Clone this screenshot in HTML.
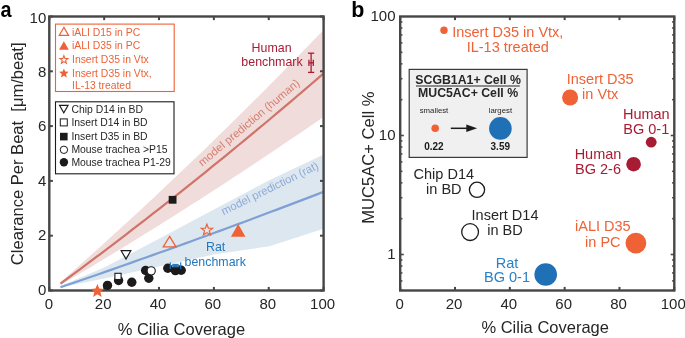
<!DOCTYPE html>
<html><head><meta charset="utf-8"><style>
html,body{margin:0;padding:0;background:#fff;width:685px;height:338px;overflow:hidden;}
svg{display:block;will-change:transform;font-family:"Liberation Sans",sans-serif;}
</style></head><body>
<svg width="685" height="338" viewBox="0 0 685 338">
<rect width="685" height="338" fill="#fff"/>
<clipPath id="ca"><rect x="49.3" y="16.5" width="274.3" height="274"/></clipPath>
<g clip-path="url(#ca)">
<polygon fill="#f1dcdc" points="60.5,282.19 67.08,276.39 73.66,270.57 80.23,264.72 86.81,258.84 93.39,252.94 99.97,247.01 106.54,241.06 113.12,235.08 119.7,229.07 126.28,223.04 132.85,216.98 139.43,210.9 146.01,204.79 152.59,198.65 159.16,192.49 165.74,186.3 172.32,180.09 178.9,173.85 185.47,167.59 192.05,161.3 198.63,154.98 205.21,148.63 211.78,142.27 218.36,135.87 224.94,129.45 231.52,123 238.09,116.53 244.67,110.03 251.25,103.51 257.83,96.96 264.4,90.38 270.98,83.78 277.56,77.15 284.14,70.49 290.71,63.81 297.29,57.11 303.87,50.37 310.45,43.62 317.02,36.83 323.6,30.02 323.6,116.85 317.02,121.39 310.45,125.91 303.87,130.42 297.29,134.9 290.71,139.37 284.14,143.83 277.56,148.26 270.98,152.68 264.4,157.09 257.83,161.47 251.25,165.84 244.67,170.19 238.09,174.52 231.52,178.83 224.94,183.13 218.36,187.41 211.78,191.68 205.21,195.92 198.63,200.15 192.05,204.36 185.47,208.56 178.9,212.73 172.32,216.89 165.74,221.04 159.16,225.16 152.59,229.27 146.01,233.36 139.43,237.43 132.85,241.49 126.28,245.53 119.7,249.55 113.12,253.55 106.54,257.54 99.97,261.51 93.39,265.46 86.81,269.4 80.23,273.31 73.66,277.21 67.08,281.1 60.5,284.96"/>
<polygon fill="#dde7f0" points="60.5,286 104.2,267.6 159,238.8 213.9,209.5 268.7,180.6 323.6,154.4 323.6,228.8 269.5,246.2 213.9,254.6 159,266.6 104.2,278.4 60.5,287.6"/>
<polyline fill="none" stroke="#cf7468" stroke-width="2.2" points="60.5,283.58 67.08,278.74 73.66,273.89 80.23,269.02 86.81,264.12 93.39,259.2 99.97,254.26 106.54,249.3 113.12,244.32 119.7,239.31 126.28,234.28 132.85,229.24 139.43,224.17 146.01,219.07 152.59,213.96 159.16,208.83 165.74,203.67 172.32,198.49 178.9,193.29 185.47,188.07 192.05,182.83 198.63,177.56 205.21,172.28 211.78,166.97 218.36,161.64 224.94,156.29 231.52,150.92 238.09,145.52 244.67,140.11 251.25,134.67 257.83,129.21 264.4,123.73 270.98,118.23 277.56,112.71 284.14,107.16 290.71,101.59 297.29,96 303.87,90.39 310.45,84.76 317.02,79.11 323.6,73.43"/>
<polyline fill="none" stroke="#7ea0d4" stroke-width="2.2" points="60.5,287.26 67.08,285.01 73.66,282.76 80.23,280.5 86.81,278.23 93.39,275.96 99.97,273.68 106.54,271.39 113.12,269.09 119.7,266.79 126.28,264.48 132.85,262.16 139.43,259.83 146.01,257.5 152.59,255.16 159.16,252.82 165.74,250.46 172.32,248.1 178.9,245.73 185.47,243.36 192.05,240.98 198.63,238.59 205.21,236.19 211.78,233.79 218.36,231.37 224.94,228.96 231.52,226.53 238.09,224.1 244.67,221.66 251.25,219.21 257.83,216.76 264.4,214.3 270.98,211.83 277.56,209.35 284.14,206.87 290.71,204.38 297.29,201.88 303.87,199.38 310.45,196.87 317.02,194.35 323.6,191.82"/>
</g>
<text x="202.3" y="166.7" transform="rotate(-40 202.3 166.7)" font-size="11.3" fill="#d4806f">model prediction (human)</text>
<text x="223.6" y="215.2" transform="rotate(-26.1 223.6 215.2)" font-size="11.3" fill="#8eaad8">model prediction (rat)</text>
<rect x="49.3" y="16.5" width="274.3" height="274" fill="none" stroke="#464646" stroke-width="2.4"/>
<line x1="49.3" y1="290.5" x2="49.3" y2="286.9" stroke="#464646" stroke-width="2"/>
<line x1="49.3" y1="16.5" x2="49.3" y2="20.1" stroke="#464646" stroke-width="2"/>
<text x="48.8" y="308.6" font-size="15" fill="#262626" text-anchor="middle">0</text>
<line x1="104.16" y1="290.5" x2="104.16" y2="286.9" stroke="#464646" stroke-width="2"/>
<line x1="104.16" y1="16.5" x2="104.16" y2="20.1" stroke="#464646" stroke-width="2"/>
<text x="103.16" y="308.6" font-size="15" fill="#262626" text-anchor="middle">20</text>
<line x1="159.02" y1="290.5" x2="159.02" y2="286.9" stroke="#464646" stroke-width="2"/>
<line x1="159.02" y1="16.5" x2="159.02" y2="20.1" stroke="#464646" stroke-width="2"/>
<text x="158.02" y="308.6" font-size="15" fill="#262626" text-anchor="middle">40</text>
<line x1="213.88" y1="290.5" x2="213.88" y2="286.9" stroke="#464646" stroke-width="2"/>
<line x1="213.88" y1="16.5" x2="213.88" y2="20.1" stroke="#464646" stroke-width="2"/>
<text x="212.88" y="308.6" font-size="15" fill="#262626" text-anchor="middle">60</text>
<line x1="268.74" y1="290.5" x2="268.74" y2="286.9" stroke="#464646" stroke-width="2"/>
<line x1="268.74" y1="16.5" x2="268.74" y2="20.1" stroke="#464646" stroke-width="2"/>
<text x="267.74" y="308.6" font-size="15" fill="#262626" text-anchor="middle">80</text>
<line x1="323.6" y1="290.5" x2="323.6" y2="286.9" stroke="#464646" stroke-width="2"/>
<line x1="323.6" y1="16.5" x2="323.6" y2="20.1" stroke="#464646" stroke-width="2"/>
<text x="322.6" y="308.6" font-size="15" fill="#262626" text-anchor="middle">100</text>
<line x1="49.3" y1="290.5" x2="52.9" y2="290.5" stroke="#464646" stroke-width="2"/>
<line x1="323.6" y1="290.5" x2="320" y2="290.5" stroke="#464646" stroke-width="2"/>
<text x="46.3" y="294.55" font-size="15" fill="#262626" text-anchor="end">0</text>
<line x1="49.3" y1="235.7" x2="52.9" y2="235.7" stroke="#464646" stroke-width="2"/>
<line x1="323.6" y1="235.7" x2="320" y2="235.7" stroke="#464646" stroke-width="2"/>
<text x="46.3" y="240.19" font-size="15" fill="#262626" text-anchor="end">2</text>
<line x1="49.3" y1="180.9" x2="52.9" y2="180.9" stroke="#464646" stroke-width="2"/>
<line x1="323.6" y1="180.9" x2="320" y2="180.9" stroke="#464646" stroke-width="2"/>
<text x="46.3" y="185.83" font-size="15" fill="#262626" text-anchor="end">4</text>
<line x1="49.3" y1="126.1" x2="52.9" y2="126.1" stroke="#464646" stroke-width="2"/>
<line x1="323.6" y1="126.1" x2="320" y2="126.1" stroke="#464646" stroke-width="2"/>
<text x="46.3" y="131.47" font-size="15" fill="#262626" text-anchor="end">6</text>
<line x1="49.3" y1="71.3" x2="52.9" y2="71.3" stroke="#464646" stroke-width="2"/>
<line x1="323.6" y1="71.3" x2="320" y2="71.3" stroke="#464646" stroke-width="2"/>
<text x="46.3" y="77.11" font-size="15" fill="#262626" text-anchor="end">8</text>
<line x1="49.3" y1="16.5" x2="52.9" y2="16.5" stroke="#464646" stroke-width="2"/>
<line x1="323.6" y1="16.5" x2="320" y2="16.5" stroke="#464646" stroke-width="2"/>
<text x="46.3" y="22.75" font-size="15" fill="#262626" text-anchor="end">10</text>
<text x="181.4" y="334.6" font-size="16.5" fill="#262626" text-anchor="middle">% Cilia Coverage</text>
<text transform="translate(23 153.8) rotate(-90)" font-size="16.55" fill="#262626" text-anchor="middle">Clearance Per Beat&#160;&#160;[&#956;m/beat]</text>
<text transform="translate(0.4 17.1) scale(0.87 1)" font-size="22.8" font-weight="bold" fill="#000">a</text>
<circle cx="107.5" cy="285.4" r="4.7" fill="#1c1a1b" stroke="none" stroke-width="0"/>
<circle cx="118.6" cy="280.5" r="4.7" fill="#1c1a1b" stroke="none" stroke-width="0"/>
<circle cx="131.8" cy="282.3" r="4.7" fill="#1c1a1b" stroke="none" stroke-width="0"/>
<circle cx="145.6" cy="270.5" r="4.7" fill="#1c1a1b" stroke="none" stroke-width="0"/>
<circle cx="148.8" cy="278.3" r="4.7" fill="#1c1a1b" stroke="none" stroke-width="0"/>
<circle cx="167.8" cy="268.3" r="4.7" fill="#1c1a1b" stroke="none" stroke-width="0"/>
<circle cx="175.4" cy="270.6" r="4.7" fill="#1c1a1b" stroke="none" stroke-width="0"/>
<circle cx="181.2" cy="270.2" r="4.7" fill="#1c1a1b" stroke="none" stroke-width="0"/>
<circle cx="151.2" cy="270.85" r="4.1" fill="#fff" stroke="#1c1a1b" stroke-width="1.1"/>
<rect x="114.9" y="273.3" width="6.2" height="6.2" fill="#fff" stroke="#1c1a1b" stroke-width="1.1"/>
<rect x="168.7" y="195.9" width="7.8" height="7.8" fill="#1c1a1b" stroke="none" stroke-width="0"/>
<polygon points="121.2,250.7 130.8,250.7 126,259.1" fill="none" stroke="#1c1a1b" stroke-width="1.2" stroke-linejoin="miter"/>
<polygon points="169.6,236.4 176,246.8 163.2,246.8" fill="none" stroke="#ee6236" stroke-width="1.3" stroke-linejoin="miter"/>
<polygon points="238.2,223.95 245.45,236.65 230.95,236.65" fill="#ee6236" stroke="none" stroke-width="0" stroke-linejoin="miter"/>
<polygon points="206.9,224.1 208.38,228.06 212.61,228.25 209.3,230.88 210.43,234.95 206.9,232.62 203.37,234.95 204.5,230.88 201.19,228.25 205.42,228.06" fill="none" stroke="#ee6236" stroke-width="1.2"/>
<polygon points="97.4,283.9 99.3,288.48 104.25,288.88 100.48,292.1 101.63,296.92 97.4,294.34 93.17,296.92 94.32,292.1 90.55,288.88 95.5,288.48" fill="#ee6236" stroke="none" stroke-width="0"/>
<g stroke="#2277c0" stroke-width="1.1" fill="none">
<line x1="170.3" y1="265.6" x2="180.7" y2="265.6"/>
<line x1="170.3" y1="262.2" x2="170.3" y2="269"/>
<line x1="180.7" y1="262.2" x2="180.7" y2="269"/>
<line x1="175.5" y1="264.4" x2="175.5" y2="266.8"/>
<line x1="172.3" y1="264.4" x2="178.7" y2="264.4"/>
<line x1="172.3" y1="266.8" x2="178.7" y2="266.8"/>
</g>
<g stroke="#a81c33" stroke-width="1.3" fill="none">
<line x1="308.9" y1="62.8" x2="313.3" y2="62.8"/>
<line x1="308.9" y1="59.7" x2="308.9" y2="65.9"/>
<line x1="313.3" y1="59.7" x2="313.3" y2="65.9"/>
<line x1="311.1" y1="53.2" x2="311.1" y2="72.4"/>
<line x1="308" y1="53.2" x2="314.2" y2="53.2"/>
<line x1="308" y1="72.4" x2="314.2" y2="72.4"/>
</g>
<text font-size="12.4" fill="#2277c0" text-anchor="middle"><tspan x="215.6" y="251">Rat</tspan><tspan x="215.2" y="265.8">benchmark</tspan></text>
<text font-size="12.4" fill="#a81c33" text-anchor="middle"><tspan x="271.6" y="52">Human</tspan><tspan x="272" y="66.2">benchmark</tspan></text>
<rect x="55.5" y="24.1" width="118.7" height="67.4" fill="#fff" stroke="#ee6236" stroke-width="1.1"/>
<polygon points="63.9,27.4 68.6,35.4 59.2,35.4" fill="none" stroke="#ee6236" stroke-width="1.2" stroke-linejoin="miter"/>
<polygon points="63.9,41.3 68.8,49.7 59,49.7" fill="#ee6236" stroke="none" stroke-width="0" stroke-linejoin="miter"/>
<polygon points="63.9,55.6 64.94,58.37 67.89,58.5 65.58,60.35 66.37,63.2 63.9,61.56 61.43,63.2 62.22,60.35 59.91,58.5 62.86,58.37" fill="none" stroke="#ee6236" stroke-width="1.1"/>
<polygon points="63.9,68.4 65.22,71.58 68.66,71.85 66.04,74.1 66.84,77.45 63.9,75.65 60.96,77.45 61.76,74.1 59.14,71.85 62.58,71.58" fill="#ee6236" stroke="none" stroke-width="0"/>
<text x="72" y="35.8" font-size="10.4" fill="#ee6236">iALI D15 in PC</text>
<text x="72" y="49.2" font-size="10.4" fill="#ee6236">iALI D35 in PC</text>
<text x="72" y="63" font-size="10.4" fill="#ee6236">Insert D35 in Vtx</text>
<text x="72" y="76.6" font-size="10.4" fill="#ee6236">Insert D35 in Vtx,</text>
<text x="72" y="89.3" font-size="10.4" fill="#ee6236">IL-13 treated</text>
<rect x="55.5" y="101.8" width="118.5" height="72" fill="#fff" stroke="#1c1a1b" stroke-width="1.1"/>
<polygon points="59.5,105.4 68.1,105.4 63.8,112.8" fill="none" stroke="#1c1a1b" stroke-width="1.1" stroke-linejoin="miter"/>
<rect x="60.3" y="118.9" width="7" height="7" fill="#fff" stroke="#1c1a1b" stroke-width="1"/>
<rect x="60" y="132.8" width="7.6" height="7.6" fill="#1c1a1b" stroke="none" stroke-width="0"/>
<circle cx="63.9" cy="149.8" r="3.7" fill="#fff" stroke="#1c1a1b" stroke-width="1"/>
<circle cx="63.9" cy="162.3" r="4.2" fill="#1c1a1b" stroke="none" stroke-width="0"/>
<text x="71.4" y="112.8" font-size="10.4" fill="#262626">Chip D14 in BD</text>
<text x="71.4" y="126.2" font-size="10.4" fill="#262626">Insert D14 in BD</text>
<text x="71.4" y="139.6" font-size="10.4" fill="#262626">Insert D35 in BD</text>
<text x="71.4" y="153" font-size="10.4" fill="#262626">Mouse trachea &gt;P15</text>
<text x="71.4" y="166.4" font-size="10.4" fill="#262626">Mouse trachea P1-29</text>
<rect x="409.2" y="69.4" width="117.9" height="88" fill="#f0f0f0" stroke="#3a3a3a" stroke-width="1.2"/>
<rect x="400.2" y="16.5" width="274.1" height="274" fill="none" stroke="#464646" stroke-width="2.4"/>
<line x1="400.2" y1="290.5" x2="400.2" y2="286.9" stroke="#464646" stroke-width="2"/>
<line x1="400.2" y1="16.5" x2="400.2" y2="20.1" stroke="#464646" stroke-width="2"/>
<text x="399.7" y="308.6" font-size="15" fill="#262626" text-anchor="middle">0</text>
<line x1="455.02" y1="290.5" x2="455.02" y2="286.9" stroke="#464646" stroke-width="2"/>
<line x1="455.02" y1="16.5" x2="455.02" y2="20.1" stroke="#464646" stroke-width="2"/>
<text x="454.02" y="308.6" font-size="15" fill="#262626" text-anchor="middle">20</text>
<line x1="509.84" y1="290.5" x2="509.84" y2="286.9" stroke="#464646" stroke-width="2"/>
<line x1="509.84" y1="16.5" x2="509.84" y2="20.1" stroke="#464646" stroke-width="2"/>
<text x="508.84" y="308.6" font-size="15" fill="#262626" text-anchor="middle">40</text>
<line x1="564.66" y1="290.5" x2="564.66" y2="286.9" stroke="#464646" stroke-width="2"/>
<line x1="564.66" y1="16.5" x2="564.66" y2="20.1" stroke="#464646" stroke-width="2"/>
<text x="563.66" y="308.6" font-size="15" fill="#262626" text-anchor="middle">60</text>
<line x1="619.48" y1="290.5" x2="619.48" y2="286.9" stroke="#464646" stroke-width="2"/>
<line x1="619.48" y1="16.5" x2="619.48" y2="20.1" stroke="#464646" stroke-width="2"/>
<text x="618.48" y="308.6" font-size="15" fill="#262626" text-anchor="middle">80</text>
<line x1="674.3" y1="290.5" x2="674.3" y2="286.9" stroke="#464646" stroke-width="2"/>
<line x1="674.3" y1="16.5" x2="674.3" y2="20.1" stroke="#464646" stroke-width="2"/>
<text x="673.3" y="308.6" font-size="15" fill="#262626" text-anchor="middle">100</text>
<line x1="400.2" y1="290.32" x2="402.4" y2="290.32" stroke="#464646" stroke-width="1.6"/>
<line x1="674.3" y1="290.32" x2="672.1" y2="290.32" stroke="#464646" stroke-width="1.6"/>
<line x1="400.2" y1="280.9" x2="402.4" y2="280.9" stroke="#464646" stroke-width="1.6"/>
<line x1="674.3" y1="280.9" x2="672.1" y2="280.9" stroke="#464646" stroke-width="1.6"/>
<line x1="400.2" y1="272.93" x2="402.4" y2="272.93" stroke="#464646" stroke-width="1.6"/>
<line x1="674.3" y1="272.93" x2="672.1" y2="272.93" stroke="#464646" stroke-width="1.6"/>
<line x1="400.2" y1="266.03" x2="402.4" y2="266.03" stroke="#464646" stroke-width="1.6"/>
<line x1="674.3" y1="266.03" x2="672.1" y2="266.03" stroke="#464646" stroke-width="1.6"/>
<line x1="400.2" y1="259.95" x2="402.4" y2="259.95" stroke="#464646" stroke-width="1.6"/>
<line x1="674.3" y1="259.95" x2="672.1" y2="259.95" stroke="#464646" stroke-width="1.6"/>
<line x1="400.2" y1="254.5" x2="403.8" y2="254.5" stroke="#464646" stroke-width="1.6"/>
<line x1="674.3" y1="254.5" x2="670.7" y2="254.5" stroke="#464646" stroke-width="1.6"/>
<line x1="400.2" y1="218.68" x2="402.4" y2="218.68" stroke="#464646" stroke-width="1.6"/>
<line x1="674.3" y1="218.68" x2="672.1" y2="218.68" stroke="#464646" stroke-width="1.6"/>
<line x1="400.2" y1="197.72" x2="402.4" y2="197.72" stroke="#464646" stroke-width="1.6"/>
<line x1="674.3" y1="197.72" x2="672.1" y2="197.72" stroke="#464646" stroke-width="1.6"/>
<line x1="400.2" y1="182.85" x2="402.4" y2="182.85" stroke="#464646" stroke-width="1.6"/>
<line x1="674.3" y1="182.85" x2="672.1" y2="182.85" stroke="#464646" stroke-width="1.6"/>
<line x1="400.2" y1="171.32" x2="402.4" y2="171.32" stroke="#464646" stroke-width="1.6"/>
<line x1="674.3" y1="171.32" x2="672.1" y2="171.32" stroke="#464646" stroke-width="1.6"/>
<line x1="400.2" y1="161.9" x2="402.4" y2="161.9" stroke="#464646" stroke-width="1.6"/>
<line x1="674.3" y1="161.9" x2="672.1" y2="161.9" stroke="#464646" stroke-width="1.6"/>
<line x1="400.2" y1="153.93" x2="402.4" y2="153.93" stroke="#464646" stroke-width="1.6"/>
<line x1="674.3" y1="153.93" x2="672.1" y2="153.93" stroke="#464646" stroke-width="1.6"/>
<line x1="400.2" y1="147.03" x2="402.4" y2="147.03" stroke="#464646" stroke-width="1.6"/>
<line x1="674.3" y1="147.03" x2="672.1" y2="147.03" stroke="#464646" stroke-width="1.6"/>
<line x1="400.2" y1="140.95" x2="402.4" y2="140.95" stroke="#464646" stroke-width="1.6"/>
<line x1="674.3" y1="140.95" x2="672.1" y2="140.95" stroke="#464646" stroke-width="1.6"/>
<line x1="400.2" y1="135.5" x2="403.8" y2="135.5" stroke="#464646" stroke-width="1.6"/>
<line x1="674.3" y1="135.5" x2="670.7" y2="135.5" stroke="#464646" stroke-width="1.6"/>
<line x1="400.2" y1="99.68" x2="402.4" y2="99.68" stroke="#464646" stroke-width="1.6"/>
<line x1="674.3" y1="99.68" x2="672.1" y2="99.68" stroke="#464646" stroke-width="1.6"/>
<line x1="400.2" y1="78.72" x2="402.4" y2="78.72" stroke="#464646" stroke-width="1.6"/>
<line x1="674.3" y1="78.72" x2="672.1" y2="78.72" stroke="#464646" stroke-width="1.6"/>
<line x1="400.2" y1="63.85" x2="402.4" y2="63.85" stroke="#464646" stroke-width="1.6"/>
<line x1="674.3" y1="63.85" x2="672.1" y2="63.85" stroke="#464646" stroke-width="1.6"/>
<line x1="400.2" y1="52.32" x2="402.4" y2="52.32" stroke="#464646" stroke-width="1.6"/>
<line x1="674.3" y1="52.32" x2="672.1" y2="52.32" stroke="#464646" stroke-width="1.6"/>
<line x1="400.2" y1="42.9" x2="402.4" y2="42.9" stroke="#464646" stroke-width="1.6"/>
<line x1="674.3" y1="42.9" x2="672.1" y2="42.9" stroke="#464646" stroke-width="1.6"/>
<line x1="400.2" y1="34.93" x2="402.4" y2="34.93" stroke="#464646" stroke-width="1.6"/>
<line x1="674.3" y1="34.93" x2="672.1" y2="34.93" stroke="#464646" stroke-width="1.6"/>
<line x1="400.2" y1="28.03" x2="402.4" y2="28.03" stroke="#464646" stroke-width="1.6"/>
<line x1="674.3" y1="28.03" x2="672.1" y2="28.03" stroke="#464646" stroke-width="1.6"/>
<line x1="400.2" y1="21.95" x2="402.4" y2="21.95" stroke="#464646" stroke-width="1.6"/>
<line x1="674.3" y1="21.95" x2="672.1" y2="21.95" stroke="#464646" stroke-width="1.6"/>
<text x="395.5" y="258.75" font-size="15" fill="#262626" text-anchor="end">1</text>
<text x="395.5" y="139.75" font-size="15" fill="#262626" text-anchor="end">10</text>
<text x="395.5" y="20.75" font-size="15" fill="#262626" text-anchor="end">100</text>
<text x="545.2" y="332.6" font-size="16.5" fill="#262626" text-anchor="middle">% Cilia Coverage</text>
<text transform="translate(373.9 157.7) rotate(-90)" font-size="16.6" fill="#262626" text-anchor="middle">MUC5AC+ Cell %</text>
<text transform="translate(351.2 16.7) scale(0.95 1)" font-size="22.6" font-weight="bold" fill="#000">b</text>
<text x="468.1" y="83.6" font-size="12.3" font-weight="bold" fill="#262626" text-anchor="middle">SCGB1A1+ Cell %</text>
<line x1="416" y1="86" x2="519.8" y2="86" stroke="#262626" stroke-width="1.1"/>
<text x="468.1" y="97.1" font-size="12.3" font-weight="bold" fill="#262626" text-anchor="middle">MUC5AC+ Cell %</text>
<text x="434" y="112.8" font-size="7.8" fill="#262626" text-anchor="middle">smallest</text>
<text x="500.4" y="112.8" font-size="7.8" fill="#262626" text-anchor="middle">largest</text>
<circle cx="435.2" cy="128.2" r="3.8" fill="#ee6236" stroke="none" stroke-width="0"/>
<circle cx="500.4" cy="128.4" r="11.3" fill="#1f70b5" stroke="none" stroke-width="0"/>
<line x1="450.8" y1="128.3" x2="468" y2="128.3" stroke="#1c1a1b" stroke-width="1.5"/>
<polygon points="466.3,124.6 477.1,128.3 466.3,132" fill="#1c1a1b"/>
<text x="433.9" y="149.8" font-size="10" font-weight="bold" fill="#1c1a1b" text-anchor="middle">0.22</text>
<text x="500.3" y="149.8" font-size="10" font-weight="bold" fill="#1c1a1b" text-anchor="middle">3.59</text>
<circle cx="444" cy="30.2" r="3.7" fill="#ee6236" stroke="none" stroke-width="0"/>
<text font-size="14.5" fill="#ee6236" text-anchor="middle"><tspan x="507.8" y="36.8">Insert D35 in Vtx,</tspan><tspan x="507.8" y="51.6">IL-13 treated</tspan></text>
<circle cx="570.1" cy="97.5" r="8" fill="#ee6236" stroke="none" stroke-width="0"/>
<text font-size="14.5" fill="#ee6236" text-anchor="middle"><tspan x="600.2" y="83.7">Insert D35</tspan><tspan x="600.2" y="98.7">in Vtx</tspan></text>
<circle cx="651.2" cy="142.2" r="5.4" fill="#a81c33" stroke="none" stroke-width="0"/>
<text font-size="14.5" fill="#a81c33" text-anchor="middle"><tspan x="646.3" y="118.5">Human</tspan><tspan x="646.3" y="134">BG 0-1</tspan></text>
<circle cx="633.6" cy="164.2" r="7.3" fill="#a81c33" stroke="none" stroke-width="0"/>
<text font-size="14.5" fill="#a81c33" text-anchor="middle"><tspan x="598" y="158.9">Human</tspan><tspan x="598" y="173.7">BG 2-6</tspan></text>
<circle cx="635.9" cy="243.1" r="10.4" fill="#ee6236" stroke="none" stroke-width="0"/>
<text font-size="14.5" fill="#ee6236" text-anchor="middle"><tspan x="602.8" y="231.3">iALI D35</tspan><tspan x="602.8" y="246.5">in PC</tspan></text>
<circle cx="545.7" cy="274.5" r="11.3" fill="#1f70b5" stroke="none" stroke-width="0"/>
<text font-size="14.5" fill="#2a80c4" text-anchor="middle"><tspan x="507" y="267.5">Rat</tspan><tspan x="507" y="282.3">BG 0-1</tspan></text>
<circle cx="477" cy="189.8" r="7.6" fill="none" stroke="#1c1a1b" stroke-width="1.3"/>
<text font-size="14.5" fill="#262626" text-anchor="middle"><tspan x="443.8" y="178.9">Chip D14</tspan><tspan x="443.8" y="193.7">in BD</tspan></text>
<circle cx="470.1" cy="232.1" r="8.4" fill="none" stroke="#1c1a1b" stroke-width="1.3"/>
<text font-size="14.5" fill="#262626" text-anchor="middle"><tspan x="505" y="219.8">Insert D14</tspan><tspan x="505" y="234.6">in BD</tspan></text>
</svg>
</body></html>
